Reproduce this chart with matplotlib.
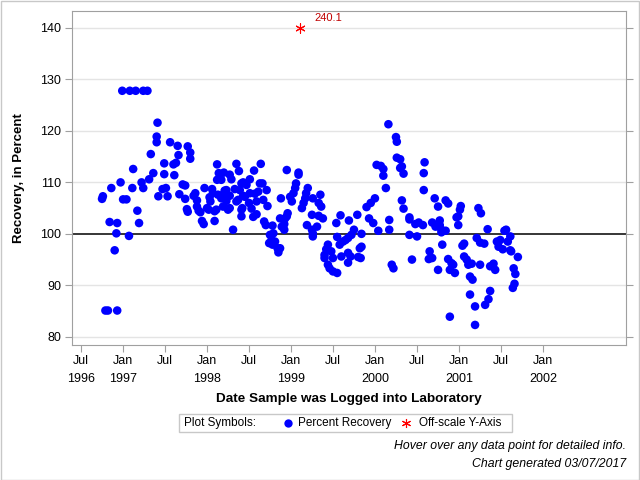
from datetime import datetime
import matplotlib
matplotlib.use("Agg")
import matplotlib.pyplot as plt
from matplotlib.patches import Rectangle
from matplotlib.lines import Line2D

plt.rcParams['font.family'] = ['Liberation Sans', 'DejaVu Sans']

# sample log date as decimal year, percent recovery
log_year = [
    1996.75, 1996.76, 1996.79, 1996.82, 1996.93, 1996.84, 1996.86, 1996.90, 1996.92, 1996.93,
    1996.97, 1996.99, 1997.00, 1997.04, 1997.07, 1997.08, 1997.11, 1997.12, 1997.15, 1997.17,
    1997.19, 1997.22, 1997.24, 1997.24, 1997.29, 1997.31, 1997.33, 1997.36, 1997.40, 1997.40,
    1997.41, 1997.42, 1997.47, 1997.49, 1997.49, 1997.51, 1997.53, 1997.56, 1997.60, 1997.61,
    1997.63, 1997.65, 1997.66, 1997.67, 1997.71, 1997.74, 1997.74, 1997.76, 1997.77, 1997.77,
    1997.80, 1997.80, 1997.84, 1997.86, 1997.88, 1997.88, 1997.90, 1997.92, 1997.94, 1997.96,
    1997.97, 1998.00, 1998.02, 1998.03, 1998.04, 1998.06, 1998.07, 1998.09, 1998.09, 1998.11,
    1998.12, 1998.12, 1998.13, 1998.14, 1998.17, 1998.17, 1998.19, 1998.19, 1998.20, 1998.21,
    1998.23, 1998.23, 1998.25, 1998.27, 1998.27, 1998.27, 1998.29, 1998.31, 1998.33, 1998.35,
    1998.35, 1998.37, 1998.38, 1998.39, 1998.41, 1998.41, 1998.41, 1998.42, 1998.43, 1998.43,
    1998.45, 1998.47, 1998.50, 1998.51, 1998.51, 1998.53, 1998.55, 1998.56, 1998.57, 1998.59,
    1998.59, 1998.61, 1998.63, 1998.64, 1998.66, 1998.67, 1998.68, 1998.70, 1998.71, 1998.72,
    1998.74, 1998.75, 1998.77, 1998.78, 1998.78, 1998.79, 1998.81, 1998.84, 1998.85, 1998.87,
    1998.87, 1998.88, 1998.89, 1998.92, 1998.92, 1998.93, 1998.95, 1998.95, 1998.96, 1998.99,
    1999.01, 1999.03, 1999.05, 1999.06, 1999.09, 1999.09, 1999.13, 1999.15, 1999.17, 1999.18,
    1999.19, 1999.20, 1999.25, 1999.25, 1999.26, 1999.26, 1999.26, 1999.31, 1999.33, 1999.33,
    1999.35, 1999.36, 1999.38, 1999.40, 1999.40, 1999.42, 1999.44, 1999.44, 1999.46, 1999.48,
    1999.50, 1999.50, 1999.54, 1999.55, 1999.55, 1999.58, 1999.59, 1999.60, 1999.62, 1999.65,
    1999.68, 1999.68, 1999.68, 1999.69, 1999.71, 1999.72, 1999.75, 1999.79, 1999.80, 1999.82,
    1999.83, 1999.84, 1999.84, 1999.90, 1999.93, 1999.95, 1999.98, 2000.00, 2000.02, 2000.04,
    2000.07, 2000.10, 2000.10, 2000.13, 2000.16, 2000.17, 2000.17, 2000.20, 2000.22, 2000.25,
    2000.26, 2000.26, 2000.30, 2000.30, 2000.32, 2000.32, 2000.34, 2000.34, 2000.41, 2000.41,
    2000.41, 2000.44, 2000.48, 2000.50, 2000.52, 2000.57, 2000.58, 2000.58, 2000.59, 2000.64,
    2000.65, 2000.68, 2000.68, 2000.71, 2000.72, 2000.75, 2000.75, 2000.77, 2000.77, 2000.79,
    2000.79, 2000.80, 2000.84, 2000.84, 2000.87, 2000.87, 2000.89, 2000.89, 2000.91, 2000.93,
    2000.95, 2000.97, 2000.99, 2000.99, 2001.01, 2001.02, 2001.04, 2001.06, 2001.06, 2001.09,
    2001.11, 2001.13, 2001.13, 2001.15, 2001.16, 2001.19, 2001.19, 2001.21, 2001.23, 2001.25,
    2001.25, 2001.26, 2001.30, 2001.31, 2001.34, 2001.35, 2001.37, 2001.37, 2001.41, 2001.43,
    2001.45, 2001.47, 2001.49, 2001.52, 2001.54, 2001.56, 2001.58, 2001.61, 2001.61, 2001.62,
    2001.64, 2001.65, 2001.66, 2001.67, 2001.70,
]
recovery = [
    106.8, 107.3, 85.1, 85.1, 85.1, 102.3, 108.9, 96.8, 100.1, 102.1,
    110.0, 127.8, 106.7, 106.7, 99.6, 127.8, 108.9, 112.6, 127.8, 104.5,
    102.1, 110.0, 127.8, 108.9, 127.8, 110.6, 115.5, 111.8, 118.9, 117.8,
    121.6, 107.3, 108.7, 113.7, 111.6, 108.9, 107.3, 117.8, 113.5, 111.4,
    113.8, 117.1, 115.3, 107.7, 109.6, 109.4, 106.8, 104.8, 117.0, 104.3,
    115.8, 114.6, 107.4, 107.9, 106.5, 105.3, 104.5, 104.2, 102.5, 101.9,
    108.9, 105.0, 104.7, 107.1, 106.3, 108.7, 107.9, 104.4, 102.5, 104.7,
    113.5, 110.5, 107.6, 111.8, 110.5, 106.9, 107.6, 105.3, 111.9, 108.4,
    106.4, 108.5, 104.7, 111.5, 107.4, 105.0, 110.6, 100.8, 108.7, 113.6,
    106.3, 106.6, 112.2, 108.5, 109.8, 104.7, 103.4, 105.0, 110.0, 107.4,
    107.2, 109.5, 106.0, 110.6, 107.9, 104.9, 103.3, 112.3, 107.8, 106.3,
    103.8, 108.2, 109.8, 113.6, 109.8, 106.6, 102.4, 101.7, 108.5, 105.4,
    98.2, 99.8, 98.8, 101.6, 97.9, 100.1, 98.5, 97.2, 96.4, 103.0,
    97.2, 106.9, 101.4, 101.9, 100.8, 103.0, 112.4, 103.4, 104.0, 107.2,
    106.3, 107.9, 108.9, 109.8, 111.9, 111.5, 105.0, 106.0, 106.9, 107.9,
    101.7, 108.9, 103.7, 100.8, 106.9, 100.1, 99.5, 101.4, 106.0, 103.5,
    107.6, 105.3, 103.0, 95.9, 95.3, 97.0, 97.9, 94.0, 93.3, 96.6,
    95.3, 92.7, 102.1, 99.4, 92.4, 97.9, 103.6, 95.6, 98.5, 98.8,
    99.2, 96.3, 94.4, 102.6, 95.6, 99.8, 100.8, 103.7, 95.5, 97.2,
    95.3, 100.0, 97.5, 105.2, 103.0, 106.0, 102.1, 106.9, 113.4, 100.6,
    113.2, 112.6, 111.3, 108.9, 121.3, 102.7, 100.8, 94.0, 93.3, 118.8,
    117.9, 114.8, 112.8, 114.5, 113.1, 106.5, 111.7, 104.9, 102.8, 103.2,
    99.8, 95.0, 101.9, 99.5, 102.2, 101.7, 111.8, 108.5, 113.9, 95.1,
    96.6, 102.2, 95.3, 106.9, 101.4, 105.3, 93.0, 102.6, 101.7, 100.8,
    100.3, 97.9, 100.6, 106.5, 105.9, 95.1, 83.9, 93.0, 94.3, 94.0,
    92.4, 103.2, 101.7, 103.4, 104.7, 105.4, 97.7, 98.1, 95.6, 95.0,
    94.0, 91.7, 88.2, 94.2, 91.1, 85.9, 82.3, 99.2, 105.0, 98.3,
    94.0, 104.0, 98.1, 86.2, 100.9, 87.3, 93.7, 88.9, 94.2, 93.0,
    98.5, 97.5, 98.8, 97.0, 100.6, 100.8, 98.5, 99.5, 96.8, 96.6,
    89.5, 93.3, 90.3, 92.2, 95.5,
]

# one value above the axis limit, drawn at the top with its real value
offscale_year = [1999.11]
offscale_value = [240.1]

y_ticks = [80, 90, 100, 110, 120, 130, 140]
x_tick_years = [1996.5, 1997.0, 1997.5, 1998.0, 1998.5, 1999.0, 1999.5,
                2000.0, 2000.5, 2001.0, 2001.5, 2002.0]
x_tick_labels = ['Jul\n1996', 'Jan\n1997', 'Jul', 'Jan\n1998', 'Jul', 'Jan\n1999', 'Jul',
                 'Jan\n2000', 'Jul', 'Jan\n2001', 'Jul', 'Jan\n2002']


def to_date(y):
    yr = int(y)
    start = datetime(yr, 1, 1)
    end = datetime(yr + 1, 1, 1)
    return start + (end - start) * (y - yr)


dates = [to_date(y) for y in log_year]
tick_dates = [to_date(y) for y in x_tick_years]

fig = plt.figure(figsize=(6.4, 4.8), dpi=100)
fig.patches.append(Rectangle((0.001, 0.001), 0.997, 0.997, transform=fig.transFigure,
                             fill=False, edgecolor='#c8c8c8', linewidth=1))
ax = fig.add_axes([0.1125, 0.28125, 0.8656, 0.6958])

grey = '#a0a0a0'
for t in y_ticks:
    if t != 100:
        ax.axhline(t, color='#e4e4e4', linewidth=1, zorder=1)
ax.axhline(100, color='black', linewidth=1.1, zorder=2)

ax.scatter(dates, recovery, s=38, color='#0000ff', edgecolors='none', zorder=3)

top = 140
ax.scatter([to_date(y) for y in offscale_year], [top] * len(offscale_year),
           marker=(6, 2, 0), s=45, color='#ff0000', linewidths=0.8, zorder=4)
for y, v in zip(offscale_year, offscale_value):
    ax.annotate(f'{v:.1f}', (to_date(y), top), xytext=(10.5, 7.5), textcoords='offset points',
                color='#c00000', fontsize=8, va='center', ha='left')

ax.set_ylim(78.4, 143.3)
ax.set_xlim(to_date(1996.393), to_date(2002.988))
ax.set_yticks(y_ticks)
ax.set_xticks(tick_dates)
ax.set_xticklabels(x_tick_labels, linespacing=1.65)

for s in ax.spines.values():
    s.set_color(grey)
ax.tick_params(axis='both', colors=grey, labelcolor='black', labelsize=9, length=5)
ax.tick_params(axis='y', right=True, pad=3)
ax.tick_params(axis='x', pad=2)

ax.set_ylabel('Recovery, in Percent', fontsize=9.5, fontweight='bold', labelpad=11)
ax.set_xlabel('Date Sample was Logged into Laboratory', fontsize=9.7, fontweight='bold', labelpad=6)

# legend box
fig.patches.append(Rectangle((179 / 640, 1 - 432 / 480), 333 / 640, 18 / 480,
                             transform=fig.transFigure, fill=False, edgecolor='#c8c8c8', linewidth=1))
ly = 1 - 423 / 480
fig.text(184 / 640, ly, 'Plot Symbols:', fontsize=8.5, va='center')
fig.lines.append(Line2D([288 / 640], [ly], transform=fig.transFigure, marker='o',
                        markersize=6, color='#0000ff', markeredgewidth=0))
fig.text(298 / 640, ly, 'Percent Recovery', fontsize=8.5, va='center')
fig.lines.append(Line2D([406 / 640], [ly], transform=fig.transFigure, marker=(6, 2, 0),
                        markersize=6.5, color='#ff0000', markeredgewidth=0.8))
fig.text(419 / 640, ly, 'Off-scale Y-Axis', fontsize=8.5, va='center')

fig.text(626 / 640, 1 - 446 / 480, 'Hover over any data point for detailed info.',
         fontsize=8.8, style='italic', ha='right', va='center')
fig.text(626 / 640, 1 - 464 / 480, 'Chart generated 03/07/2017',
         fontsize=8.8, style='italic', ha='right', va='center')

fig.savefig('out.png', dpi=100)
